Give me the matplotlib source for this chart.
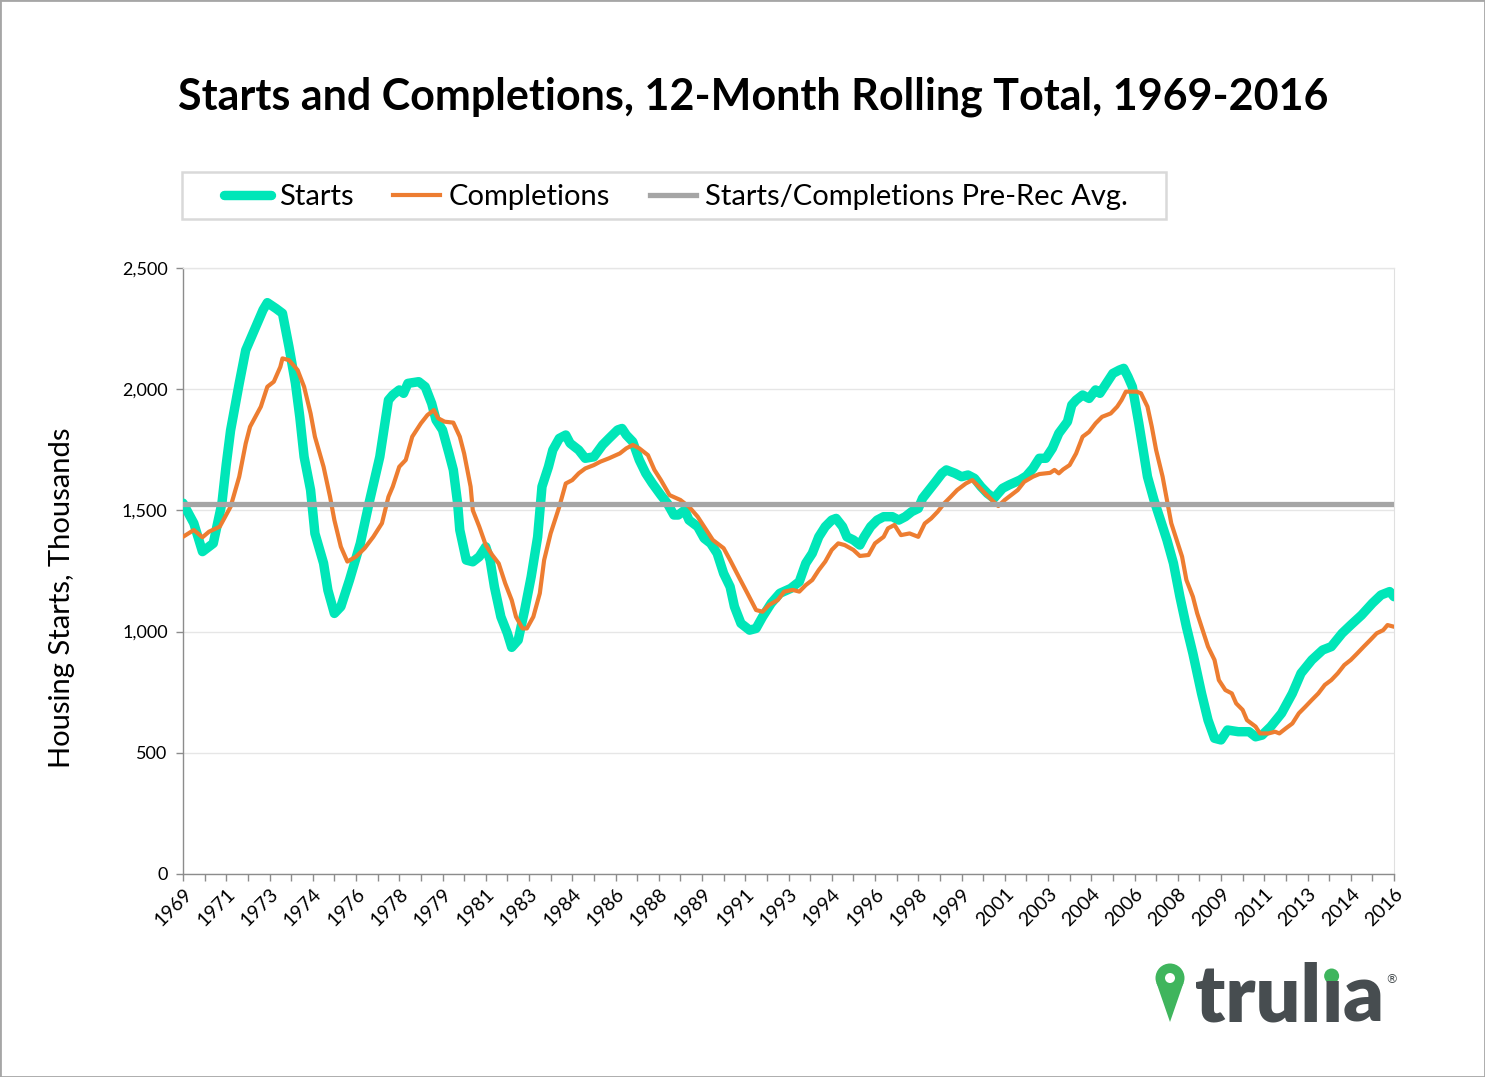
import numpy as np
import pandas as pd
import matplotlib
matplotlib.use("Agg")
import matplotlib.pyplot as plt
from matplotlib.patches import Rectangle, Circle, Polygon
from matplotlib.ticker import FuncFormatter, FixedLocator
from matplotlib.lines import Line2D
from matplotlib.transforms import IdentityTransform

# ---------------- data (12-month rolling totals, thousands) ----------------
start_period = "1969-12"          # first month of the series
n_months = 561                    # Dec 1969 .. Aug 2016

# months after Dec 1969
starts_month = [0, 5, 9, 14, 16, 18, 20, 22, 24, 26, 29, 33, 37, 39, 43, 46, 49, 52, 54, 56, 59, 61,
                65, 67, 70, 73, 77, 82, 86, 91, 95, 97, 100, 102, 104, 109, 112, 115, 117, 120,
                123, 125, 127, 128, 131, 134, 137, 140, 142, 144, 147, 150, 152, 155, 158, 161,
                164, 166, 169, 171, 174, 177, 179, 183, 186, 190, 194, 197, 201, 203, 205, 208,
                211, 214, 217, 221, 224, 227, 229, 232, 234, 238, 241, 244, 247, 250, 253, 255,
                258, 262, 265, 268, 272, 276, 281, 285, 288, 291, 294, 297, 300, 302, 305, 307,
                310, 313, 315, 318, 321, 324, 328, 331, 334, 337, 340, 342, 345, 348, 351, 353,
                357, 360, 363, 366, 369, 372, 375, 379, 382, 387, 390, 393, 396, 399, 402, 405,
                409, 411, 413, 416, 419, 422, 424, 427, 430, 433, 435, 437, 439, 442, 444, 446,
                449, 452, 455, 458, 461, 464, 467, 471, 474, 477, 480, 483, 488, 493, 496, 499,
                503, 508, 513, 517, 522, 527, 531, 536, 540, 545, 550, 554, 558, 560]
starts_value = [1530, 1447, 1330, 1364, 1447, 1530, 1690, 1830, 1928, 2024, 2161, 2244, 2327, 2357, 2333,
                2313, 2175, 2024, 1886, 1721, 1584, 1405, 1282, 1171, 1075, 1103, 1213, 1364,
                1529, 1721, 1955, 1976, 1997, 1983, 2024, 2031, 2010, 1941, 1873, 1832, 1735,
                1667, 1529, 1419, 1295, 1288, 1309, 1350, 1295, 1185, 1061, 993, 935, 965, 1089,
                1226, 1391, 1598, 1680, 1749, 1797, 1811, 1777, 1749, 1715, 1721, 1770, 1797,
                1832, 1838, 1811, 1783, 1708, 1653, 1612, 1563, 1529, 1481, 1481, 1501, 1460,
                1433, 1385, 1364, 1323, 1240, 1185, 1103, 1034, 1006, 1013, 1061, 1117, 1158,
                1178, 1206, 1282, 1323, 1391, 1433, 1460, 1467, 1433, 1391, 1378, 1357, 1391,
                1433, 1460, 1474, 1474, 1460, 1474, 1495, 1508, 1550, 1584, 1618, 1653, 1667,
                1653, 1639, 1646, 1632, 1598, 1570, 1550, 1591, 1605, 1625, 1642, 1673, 1715,
                1715, 1756, 1818, 1866, 1935, 1955, 1976, 1962, 1997, 1983, 2024, 2065, 2079,
                2086, 2051, 2010, 1859, 1749, 1639, 1543, 1460, 1378, 1282, 1144, 1020, 910,
                745, 635, 560, 553, 594, 587, 587, 566, 573, 608, 663, 745, 828, 883, 924, 938,
                993, 1027, 1068, 1117, 1151, 1165, 1144]

completions_month = [0, 5, 9, 12, 17, 22, 26, 29, 31, 36, 39, 42, 45, 46, 49, 53, 56, 59, 61,
                     65, 68, 70, 73, 76, 80, 84, 88, 92, 95, 97, 100, 103, 106, 110, 113, 116,
                     118, 121, 125, 128, 130, 133, 134, 137, 140, 143, 146, 149, 152, 154, 157,
                     159, 162, 165, 167, 170, 174, 177, 180, 183, 186, 190, 193, 197, 202, 205,
                     208, 211, 215, 218, 221, 225, 230, 234, 238, 241, 245, 250, 253, 257, 261,
                     265, 268, 271, 275, 278, 282, 285, 288, 291, 294, 297, 300, 303, 306, 310,
                     313, 317, 320, 324, 326, 329, 332, 336, 340, 343, 346, 349, 352, 355, 358,
                     362, 365, 368, 371, 374, 377, 380, 386, 389, 393, 396, 401, 403, 405, 407,
                     410, 413, 416, 419, 422, 425, 429, 432, 434, 436, 438, 441, 443, 446, 448,
                     450, 453, 455, 457, 460, 462, 464, 467, 469, 471, 474, 477, 479, 482, 485,
                     487, 490, 492, 496, 498, 502, 505, 507, 510, 513, 516, 519, 522, 525, 528,
                     531, 534, 537, 540, 543, 546, 549, 552, 555, 557, 560]
completions_value = [1391, 1419, 1389, 1412, 1433, 1515, 1639, 1776, 1845, 1928, 2010, 2031,
                     2092, 2127, 2120, 2079, 2010, 1900, 1804, 1680, 1556, 1460, 1350, 1289,
                     1309, 1344, 1391, 1447, 1556, 1598, 1680, 1708, 1804, 1859, 1893, 1914,
                     1880, 1866, 1862, 1804, 1735, 1598, 1501, 1433, 1357, 1316, 1281, 1199,
                     1130, 1061, 1013, 1013, 1061, 1158, 1295, 1405, 1515, 1611, 1625, 1653,
                     1673, 1687, 1701, 1715, 1735, 1756, 1770, 1756, 1728, 1667, 1625, 1563,
                     1543, 1515, 1474, 1433, 1378, 1344, 1295, 1226, 1158, 1089, 1082, 1110,
                     1130, 1165, 1172, 1165, 1192, 1213, 1254, 1289, 1337, 1364, 1357, 1337,
                     1312, 1316, 1364, 1391, 1426, 1440, 1398, 1405, 1391, 1446, 1467, 1495,
                     1529, 1556, 1584, 1611, 1625, 1598, 1570, 1543, 1518, 1543, 1584, 1618,
                     1639, 1650, 1655, 1667, 1653, 1669, 1687, 1735, 1804, 1824, 1859, 1886,
                     1900, 1928, 1955, 1990, 1990, 1990, 1983, 1928, 1845, 1749, 1639, 1543,
                     1447, 1364, 1309, 1213, 1144, 1075, 1020, 938, 883, 800, 759, 745, 704,
                     677, 635, 608, 580, 580, 587, 580, 601, 621, 663, 690, 718, 745, 780, 800,
                     828, 862, 883, 910, 938, 965, 993, 1006, 1027, 1020]

pre_rec_avg = 1525

series_labels = ["Starts", "Completions", "Starts/Completions Pre-Rec Avg."]
title = "Starts and Completions, 12-Month Rolling Total, 1969-2016"
y_label = "Housing Starts, Thousands"
y_ticks = [0, 500, 1000, 1500, 2000, 2500]

c_starts = "#00E6B8"
c_comp = "#ED7D31"
c_avg = "#A5A5A5"

# ---------------- figure ----------------
W, H = 1485, 1077
fig = plt.figure(figsize=(W / 100, H / 100), dpi=100)
fig.patch.set_facecolor("white")

def fx(x):
    return x / W

def fy(y):
    return 1 - y / H

ax = fig.add_axes([fx(183), fy(874), fx(1394) - fx(183), fy(268) - fy(874)])

ax.plot(starts_month, starts_value, color=c_starts, lw=6.8, solid_capstyle="round",
        solid_joinstyle="round", zorder=3)
ax.plot(completions_month, completions_value, color=c_comp, lw=3.0, solid_capstyle="round",
        solid_joinstyle="round", zorder=4)
ax.axhline(pre_rec_avg, color=c_avg, lw=3.8, zorder=5)

ax.set_xlim(0, n_months - 1)
ax.set_ylim(0, 2500)

start = pd.Period(start_period, "M")
major = list(range(0, n_months, 20))
minor = list(range(10, n_months, 20))
ax.xaxis.set_major_locator(FixedLocator(major))
ax.xaxis.set_minor_locator(FixedLocator(minor))
ax.set_xticklabels([str((start + k).year) for k in major], rotation=45, ha="right",
                   va="top", rotation_mode="anchor", fontsize=14, family="Lato")
ax.tick_params(axis="x", which="both", length=5, width=1, color="#8c8c8c", pad=3)

ax.set_yticks(y_ticks)
ax.yaxis.set_major_formatter(FuncFormatter(lambda v, p: f"{int(v):,}"))
ax.tick_params(axis="y", length=5, width=1, color="#8c8c8c", pad=6, labelsize=13)
for lab in ax.get_yticklabels():
    lab.set_family("Lato")

ax.grid(axis="y", color="#e6e6e6", lw=1, zorder=0)
ax.set_axisbelow(True)
for s in ["left", "bottom"]:
    ax.spines[s].set_color("#8c8c8c")
    ax.spines[s].set_linewidth(1)
ax.spines["right"].set_color("#e0e0e0")
ax.spines["top"].set_color("#e6e6e6")
ax.spines["top"].set_linewidth(1)

fig.text(fx(62), (fy(768) + fy(428)) / 2, y_label, rotation=90, fontsize=21,
         family="Lato", ha="center", va="center")

# title
fig.text(fx(753), fy(97), title, fontsize=31, fontweight="bold", family="Lato",
         ha="center", va="center", color="black")

# legend
handles = [Line2D([], [], color=c_starts, lw=6.8, solid_capstyle="round"),
           Line2D([], [], color=c_comp, lw=3.0),
           Line2D([], [], color=c_avg, lw=3.8)]
leg = fig.legend(handles, series_labels, loc="center", bbox_to_anchor=(fx(676), fy(197)),
                 ncol=3, frameon=False, handlelength=1.6, handletextpad=0.3,
                 columnspacing=1.35, prop={"family": "Lato", "size": 21})
fig.patches.append(Rectangle((fx(182), fy(219)), fx(1166) - fx(182), fy(172) - fy(219),
                             transform=fig.transFigure, fill=False, edgecolor="#d9d9d9",
                             lw=1.8, zorder=1))

# figure border
fig.patches.append(Rectangle((0, 0), 1, 1, transform=fig.transFigure, fill=False,
                             edgecolor="#a6a6a6", lw=2, zorder=10))

# ---------------- logo ----------------
idt = IdentityTransform()
green = "#3fb55d"
grey_logo = "#474d50"
cx, cy, r = 1170, H - 978, 14.5
fig.patches.append(Polygon([[cx - 13.5, cy - 5], [cx + 13.5, cy - 5], [cx, H - 1022]],
                           closed=True, transform=idt, facecolor=green, edgecolor="none"))
fig.patches.append(Circle((cx, cy), r, transform=idt, facecolor=green, edgecolor="none"))
fig.patches.append(Circle((cx, cy), 5, transform=idt, facecolor="white", edgecolor="none"))

fig.canvas.draw()
renderer = fig.canvas.get_renderer()
x0, base = 1195, H - 1022
lp = dict(fontsize=57, fontweight="heavy", family="Lato", color=grey_logo,
          ha="left", va="baseline", transform=idt)
t1 = fig.text(x0, base, "trul", **lp)
w1 = t1.get_window_extent(renderer).width
t2 = fig.text(x0 + w1, base, "\u0131", **lp)
w2 = t2.get_window_extent(renderer).width
t3 = fig.text(x0 + w1 + w2, base, "a", **lp)
w3 = t3.get_window_extent(renderer).width
fig.patches.append(Circle((x0 + w1 + w2 / 2, H - 976), 7.5, transform=idt,
                          facecolor=green, edgecolor="none"))
fig.text(x0 + w1 + w2 + w3 + 2, H - 980, "\u00ae", fontsize=9, color=grey_logo,
         ha="left", va="center", transform=idt, family="DejaVu Sans")

fig.savefig("out.png", dpi=100, facecolor="white")
